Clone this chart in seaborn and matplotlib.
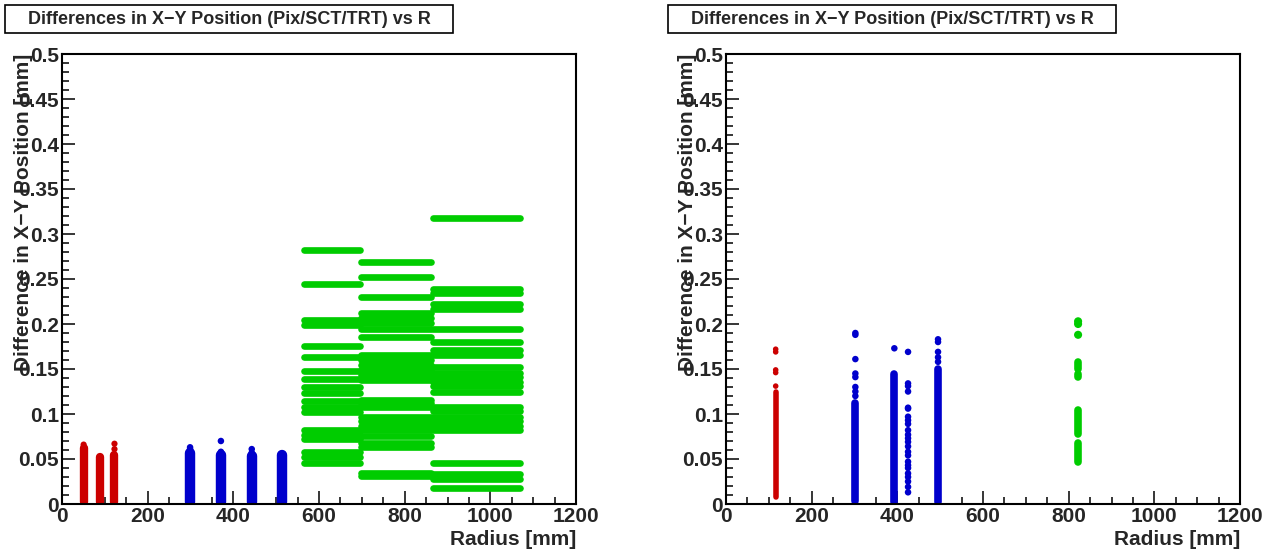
import matplotlib
matplotlib.use("Agg")
import matplotlib.pyplot as plt
from matplotlib.patches import Rectangle
from matplotlib.ticker import MultipleLocator, FormatStrFormatter
import pandas as pd
import seaborn as sns

TITLE = "Differences in X\u2212Y Position (Pix/SCT/TRT) vs R"
XLABEL = "Radius [mm]"
YLABEL = "Difference in X\u2212Y Position [mm]"

RED = "#cc0000"
BLUE = "#0000cc"
GREEN = "#00cc00"

# ---- left pad: barrel layers ----
pix_r_left = [50.5, 88.5, 122.5]
pix_lo_left = [0.002, 0.002, 0.002]
pix_hi_left = [0.062, 0.052, 0.054]
pix_out_left_r = [50.5, 122.5, 122.5]
pix_out_left_y = [0.066, 0.061, 0.067]

sct_r_left = [299, 371, 443, 514]
sct_lo_left = [0.002, 0.002, 0.002, 0.002]
sct_hi_left = [0.057, 0.055, 0.053, 0.055]
sct_out_left_r = [299, 299, 371, 371, 443, 443]
sct_out_left_y = [0.061, 0.063, 0.058, 0.070, 0.057, 0.061]

trt_ring_lo = [566, 699, 865]
trt_ring_hi = [695, 862, 1070]
trt_ring1 = [0.282, 0.245, 0.205, 0.199, 0.176, 0.163, 0.148, 0.139, 0.130,
             0.123, 0.115, 0.108, 0.102, 0.082, 0.077, 0.072, 0.058, 0.052, 0.046]
trt_ring2 = [0.269, 0.252, 0.230, 0.212, 0.207, 0.201, 0.194, 0.186, 0.166,
             0.160, 0.155, 0.149, 0.143, 0.138, 0.116, 0.112, 0.108, 0.097,
             0.092, 0.087, 0.082, 0.076, 0.068, 0.063, 0.035, 0.031]
trt_ring3 = [0.318, 0.239, 0.234, 0.222, 0.217, 0.195, 0.180, 0.171, 0.166,
             0.152, 0.146, 0.141, 0.136, 0.131, 0.124, 0.108, 0.103, 0.097,
             0.092, 0.087, 0.082, 0.046, 0.033, 0.028, 0.018]

# ---- right pad ----
pix_r_right = [116]
pix_lo_right = [0.008]
pix_hi_right = [0.125]
pix_out_right_r = [116, 116, 116, 116, 116]
pix_out_right_y = [0.131, 0.146, 0.149, 0.169, 0.172]

sct_r_right = [302, 393, 495]
sct_lo_right = [0.003, 0.002, 0.002]
sct_hi_right = [0.112, 0.145, 0.150]
sct_out_right_r = [302, 302, 302, 302, 302, 302, 302, 302, 393,
                   495, 495, 495, 495, 495]
sct_out_right_y = [0.120, 0.125, 0.130, 0.141, 0.145, 0.161, 0.188, 0.190, 0.173,
                   0.158, 0.163, 0.169, 0.180, 0.183]
sct_sparse_r = 425
sct_sparse_y = [0.169, 0.134, 0.131, 0.125, 0.107, 0.106, 0.097, 0.093, 0.089,
                0.082, 0.077, 0.073, 0.069, 0.064, 0.058, 0.054, 0.047, 0.043,
                0.040, 0.034, 0.030, 0.025, 0.019, 0.013]

trt_r_right = 822
trt_lo_right = [0.047, 0.078, 0.141, 0.150]
trt_hi_right = [0.068, 0.104, 0.145, 0.158]
trt_out_right_y = [0.188, 0.200, 0.203]

sns.set_theme(style="ticks")
plt.rcParams["font.family"] = ["Liberation Sans", "DejaVu Sans"]
plt.rcParams["font.weight"] = "bold"

fig = plt.figure(figsize=(12.75, 5.54), dpi=100)
ax_l = fig.add_axes([62 / 1275, 50 / 554, 514 / 1275, 450 / 554])
ax_r = fig.add_axes([726 / 1275, 50 / 554, 514 / 1275, 450 / 554])


def style_axes(ax):
    ax.set_xlim(0, 1200)
    ax.set_ylim(0, 0.5)
    ax.xaxis.set_major_locator(MultipleLocator(200))
    ax.xaxis.set_minor_locator(MultipleLocator(50))
    ax.yaxis.set_major_locator(MultipleLocator(0.05))
    ax.yaxis.set_minor_locator(MultipleLocator(0.01))
    ax.yaxis.set_major_formatter(FormatStrFormatter("%g"))
    ax.tick_params(which="both", direction="in", top=False, right=False,
                   width=1.1, color="black", labelsize=15, pad=2)
    ax.tick_params(which="major", length=9.5)
    ax.tick_params(which="minor", length=5)
    for lab in ax.get_xticklabels() + ax.get_yticklabels():
        lab.set_fontweight("bold")
    for sp in ax.spines.values():
        sp.set_linewidth(1.5)
        sp.set_color("black")
    ax.set_xlabel(XLABEL, fontsize=15, fontweight="bold", loc="right")
    ax.set_ylabel(YLABEL, fontsize=15, fontweight="bold", loc="top")
    ax.xaxis.set_label_coords(1.0, -0.058)
    ax.yaxis.set_label_coords(-0.056, 1.0)
    ax.xaxis.label.set_va("top")


def columns(ax, xs, lo, hi, color, lw):
    lc = ax.vlines(xs, lo, hi, colors=color, linewidth=lw)
    lc.set_capstyle("round")


def dots(ax, xs, ys, color, size):
    df = pd.DataFrame({"r": xs, "d": ys})
    sns.scatterplot(data=df, x="r", y="d", ax=ax, color=color, s=size,
                    edgecolor="none", legend=False)


# left pad
columns(ax_l, pix_r_left, pix_lo_left, pix_hi_left, RED, 6)
dots(ax_l, pix_out_left_r, pix_out_left_y, RED, 20)
columns(ax_l, sct_r_left, sct_lo_left, sct_hi_left, BLUE, 7.5)
dots(ax_l, sct_out_left_r, sct_out_left_y, BLUE, 22)
for lo, hi, levels in zip(trt_ring_lo, trt_ring_hi, [trt_ring1, trt_ring2, trt_ring3]):
    lc = ax_l.hlines(levels, lo, hi, colors=GREEN, linewidth=4.8)
    lc.set_capstyle("round")

# right pad
columns(ax_r, pix_r_right, pix_lo_right, pix_hi_right, RED, 4)
dots(ax_r, pix_out_right_r, pix_out_right_y, RED, 16)
columns(ax_r, sct_r_right, sct_lo_right, sct_hi_right, BLUE, 5.5)
dots(ax_r, sct_out_right_r, sct_out_right_y, BLUE, 22)
dots(ax_r, [sct_sparse_r] * len(sct_sparse_y), sct_sparse_y, BLUE, 22)
columns(ax_r, [trt_r_right] * len(trt_lo_right), trt_lo_right, trt_hi_right, GREEN, 5.5)
dots(ax_r, [trt_r_right] * len(trt_out_right_y), trt_out_right_y, GREEN, 34)

for ax in (ax_l, ax_r):
    style_axes(ax)

# title boxes
for x0 in (5, 668):
    fig.add_artist(Rectangle((x0 / 1275, 1 - 33 / 554), 448 / 1275, 28 / 554,
                             transform=fig.transFigure, facecolor="white",
                             edgecolor="black", linewidth=1.2))
    fig.text((x0 + 224) / 1275, 1 - 19 / 554, TITLE, ha="center", va="center",
             fontsize=13, fontweight="bold")

fig.savefig("out.png", dpi=100)
